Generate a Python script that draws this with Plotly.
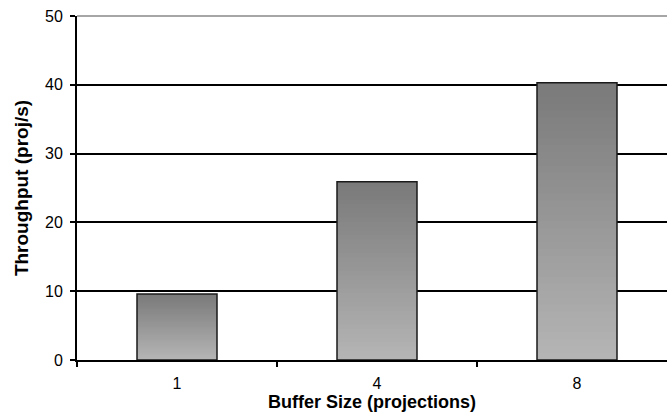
import plotly.graph_objects as go

categories = ["1", "4", "8"]
throughput = [9.6, 25.9, 40.3]
y_ticks = [0, 10, 20, 30, 40, 50]

N_STEPS = 40
DARK = 0x7a
LIGHT = 0xb6

fig = go.Figure()

# gradient fill: overlaid bars, tallest (darkest) first
for k in range(N_STEPS, 0, -1):
    f = k / N_STEPS
    g = int(round(LIGHT + (DARK - LIGHT) * f))
    fig.add_trace(go.Bar(
        x=categories,
        y=[v * f for v in throughput],
        marker=dict(color=f"rgb({g},{g},{g})", line=dict(width=0)),
        width=0.4,
        hoverinfo="skip",
        showlegend=False,
    ))

# outline
fig.add_trace(go.Bar(
    x=categories,
    y=throughput,
    marker=dict(color="rgba(0,0,0,0)", line=dict(color="#1a1a1a", width=1.5)),
    width=0.4,
    hoverinfo="skip",
    showlegend=False,
))

fig.update_layout(
    barmode="overlay",
    width=667,
    height=416,
    margin=dict(l=77, r=0, t=16, b=56),
    plot_bgcolor="white",
    paper_bgcolor="white",
    font=dict(family="Liberation Sans, Arial, sans-serif", size=16, color="black"),
    xaxis=dict(
        type="category",
        range=[-0.5, 2.45],
        tickson="boundaries",
        ticks="outside",
        ticklen=5,
        tickwidth=2,
        tickcolor="black",
        showline=True,
        linecolor="black",
        linewidth=2,
        showgrid=False,
        tickfont=dict(size=16),
        ticklabelstandoff=8,
        title=dict(text="<b>Buffer Size (projections)</b>", font=dict(size=18), standoff=3),
    ),
    yaxis=dict(
        range=[0, 50],
        tickvals=y_ticks,
        ticks="outside",
        ticklen=5,
        tickwidth=2,
        tickcolor="black",
        showline=True,
        linecolor="black",
        linewidth=2,
        showgrid=True,
        gridcolor="black",
        gridwidth=1.5,
        zeroline=False,
        tickfont=dict(size=16),
        ticklabelstandoff=4,
        title=dict(text="<b>Throughput (proj/s)</b>", font=dict(size=19), standoff=11),
    ),
    shapes=[dict(type="line", xref="paper", yref="paper", x0=0, x1=1, y0=1, y1=1,
                 line=dict(color="#888888", width=1.5))],
    hovermode=False,
)

fig.write_html(
    "out.html",
    config={"displayModeBar": False},
    post_script="document.body.style.margin='0';document.body.style.overflow='hidden';",
)
